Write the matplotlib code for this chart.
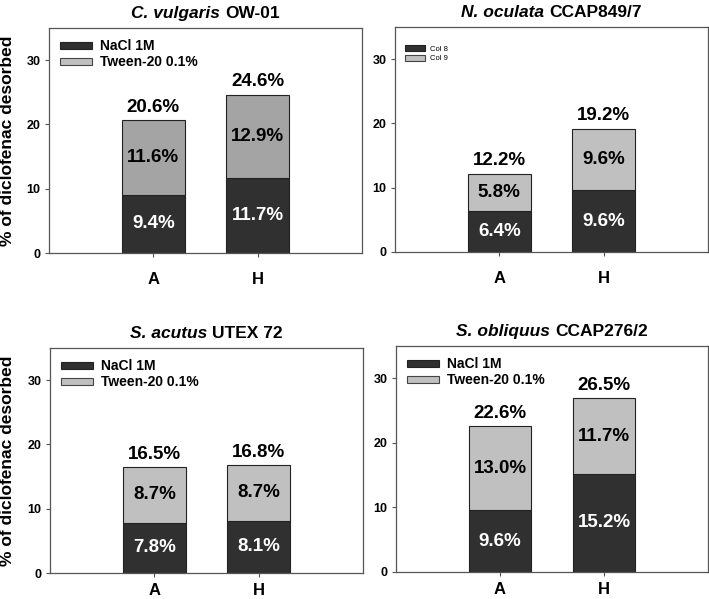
import matplotlib
matplotlib.use("Agg")
from matplotlib import pyplot as plt
from matplotlib.patches import Patch
from matplotlib.offsetbox import TextArea, HPacker, AnchoredOffsetbox
import numpy as np

plt.rcParams["font.family"] = ["Liberation Sans", "DejaVu Sans"]
plt.rcParams["font.weight"] = "bold"

# data
species = ["C. vulgaris", "N. oculata", "S. acutus", "S. obliquus"]
strains = ["OW-01", "CCAP849/7", "UTEX 72", "CCAP276/2"]
treatments = ["A", "H"]
nacl = [[9.1, 11.7], [6.4, 9.6], [7.8, 8.1], [9.6, 15.2]]
tween = [[11.6, 12.9], [5.8, 9.6], [8.7, 8.7], [13.0, 11.7]]
nacl_labels = [["9.4%", "11.7%"], ["6.4%", "9.6%"], ["7.8%", "8.1%"], ["9.6%", "15.2%"]]
tween_labels = [["11.6%", "12.9%"], ["5.8%", "9.6%"], ["8.7%", "8.7%"], ["13.0%", "11.7%"]]
total_labels = [["20.6%", "24.6%"], ["12.2%", "19.2%"], ["16.5%", "16.8%"], ["22.6%", "26.5%"]]
legend_labels = [["NaCl 1M", "Tween-20 0.1%"], ["Col 8", "Col 9"],
                 ["NaCl 1M", "Tween-20 0.1%"], ["NaCl 1M", "Tween-20 0.1%"]]

dark = "#303030"
light = "#c0c0c0"
tween_colors = ["#a4a4a4", light, light, light]
spine_col = "#555555"

W, H = 709, 599
fig = plt.figure(figsize=(W / 100, H / 100), dpi=100)

# axes boxes in pixels: left, top, right, bottom
boxes = [(49, 28, 362, 253), (395, 27, 708, 252),
         (50, 348, 363, 573), (396, 346, 708, 572)]
xtick_pads = [10.5, 10.5, 4.0, 4.0]

x = np.arange(1, len(treatments) + 1)

for i, (l, t, r, b) in enumerate(boxes):
    ax = fig.add_axes([l / W, 1 - b / H, (r - l) / W, (b - t) / H])
    n = np.array(nacl[i])
    tw = np.array(tween[i])
    ax.bar(x, n, width=0.6, color=dark, edgecolor="#222222", linewidth=0.8)
    ax.bar(x, tw, bottom=n, width=0.6, color=tween_colors[i],
           edgecolor="#222222", linewidth=0.8)

    for j in range(len(x)):
        ax.text(x[j], n[j] / 2, nacl_labels[i][j], ha="center", va="center",
                color="white", fontsize=13.5, fontweight="bold")
        ax.text(x[j], n[j] + tw[j] / 2, tween_labels[i][j], ha="center",
                va="center", color="black", fontsize=13.5, fontweight="bold")
        ax.text(x[j], n[j] + tw[j] + 2.0, total_labels[i][j], ha="center",
                va="center", color="black", fontsize=13.5, fontweight="bold")

    ax.set_xlim(0, 3)
    ax.set_ylim(0, 35)
    ax.set_yticks([0, 10, 20, 30])
    ax.set_xticks(x)
    ax.set_xticklabels(treatments, fontsize=12, fontweight="bold")
    ax.tick_params(axis="y", labelsize=9, length=3, width=0.8,
                   color=spine_col, pad=3)
    ax.tick_params(axis="x", length=3, width=0.8, color=spine_col,
                   pad=xtick_pads[i])
    for s in ax.spines.values():
        s.set_color(spine_col)
        s.set_linewidth(0.9)

    handles = [Patch(facecolor=dark, edgecolor="#222222", linewidth=0.8),
               Patch(facecolor=light, edgecolor="#444444", linewidth=0.8)]
    if i == 1:
        ax.legend(handles, legend_labels[i], loc="upper left",
                  bbox_to_anchor=(0.032, 0.92), frameon=False, borderpad=0,
                  borderaxespad=0, handlelength=2.6, handleheight=0.8,
                  handletextpad=0.7, labelspacing=0.3,
                  prop={"size": 5.5, "weight": "normal"})
    else:
        ax.legend(handles, legend_labels[i], loc="upper left",
                  bbox_to_anchor=(0.035, 0.95), frameon=False, borderpad=0,
                  borderaxespad=0, handlelength=2.3, handleheight=0.45,
                  handletextpad=0.6, labelspacing=0.15,
                  prop={"size": 10, "weight": "bold"})

    # title: italic species name + upright strain code
    t1 = TextArea(species[i], textprops=dict(fontsize=12.5, fontweight="bold",
                                             fontstyle="italic"))
    t2 = TextArea(strains[i], textprops=dict(fontsize=12.5, fontweight="bold"))
    box = HPacker(children=[t1, t2], align="baseline", pad=0, sep=3.5)
    anch = AnchoredOffsetbox(loc="lower center", child=box, pad=0, borderpad=0,
                             frameon=False, bbox_to_anchor=(0.5, 1.03),
                             bbox_transform=ax.transAxes)
    ax.add_artist(anch)

    if i % 2 == 0:
        fig.text(7.5 / W, 1 - (t + b) / 2 / H, "% of diclofenac desorbed",
                 rotation=90, ha="center", va="center", fontsize=12.5,
                 fontweight="bold")

fig.savefig("out.png", dpi=100)
